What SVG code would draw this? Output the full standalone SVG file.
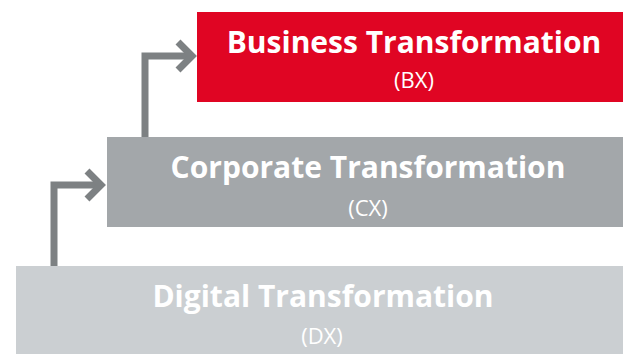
<svg xmlns="http://www.w3.org/2000/svg" width="623" height="354" viewBox="0 0 623 354">
<style>
.box{stroke:none}
.t{font-family:"Open Sans","Noto Sans","Liberation Sans",sans-serif;fill:#ffffff;text-anchor:middle}
.title{font-size:30px;font-weight:700}
.sub{font-size:22px;font-weight:400}
.conn{fill:none;stroke:#7d8183;stroke-width:7;stroke-linejoin:miter;stroke-linecap:butt}
</style>
<rect width="623" height="354" fill="#ffffff"/>
<g id="dx">
<rect class="box" x="16" y="266" width="607" height="88" fill="#cbcfd2"/>
<text class="t title" x="323" y="307">Digital Transformation</text>
<text class="t sub" x="322" y="344">(DX)</text>
</g>
<g id="cx">
<rect class="box" x="107" y="137" width="516" height="90" fill="#a3a7aa"/>
<text class="t title" x="368" y="178">Corporate Transformation</text>
<text class="t sub" x="368" y="216">(CX)</text>
</g>
<g id="bx">
<rect class="box" x="197" y="12" width="426" height="90" fill="#e00523"/>
<text class="t title" x="414" y="53">Business Transformation</text>
<text class="t sub" x="414" y="88">(BX)</text>
</g>
<g id="connectors">
<path class="conn" d="M54 266 V185 H100"/>
<polyline class="conn" points="87,171 101,185 87,199"/>
<path class="conn" d="M145 137 V56 H191"/>
<polyline class="conn" points="178,42 192,56 178,70"/>
</g>
</svg>
